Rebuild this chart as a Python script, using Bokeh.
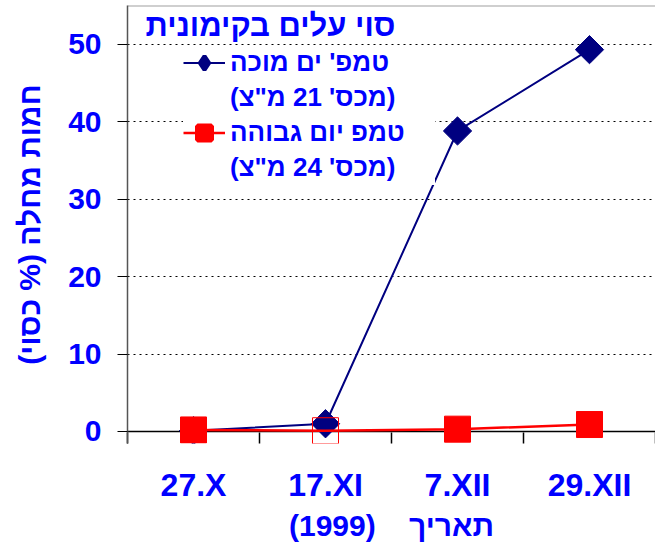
import numpy as np
from bokeh.plotting import figure
from bokeh.models import (Range1d, FixedTicker, Legend, LegendItem, ColumnDataSource,
                          Label, Span)
from bokeh.embed import file_html
from bokeh.resources import INLINE

# ---- data ----
dates = ["27.X", "17.XI", "7.XII", "29.XII"]
low_temp = [0.1, 1.0, 38.8, 49.3]     # טמפ' יום נמוכה (מכס' 21 מ"צ)
high_temp = [0.2, 0.1, 0.3, 0.9]      # טמפ' יום גבוהה (מכס' 24 מ"צ)
y_ticks = [0, 10, 20, 30, 40, 50]

legend_title = "סוי עלים בקימונית"
label_low = ["טמפ' ים מוכה", "(מכס' 21 מ\"צ)"]
label_high = ["טמפ יום גבוהה", "(מכס' 24 מ\"צ)"]
y_title = "חמות מחלה (% כסוי)"
x_title = "תאריך\u00a0\u00a0\u00a0\u00a0(1999)"

BLUE_TXT = "#0000FF"
NAVY = "#000080"
RED = "#FF0000"
FONT = "Liberation Sans"

xs = [i + 0.5 for i in range(len(dates))]

p = figure(output_backend="svg", toolbar_location=None,
           frame_width=528, frame_height=438,
           min_border_left=127, min_border_right=0, min_border_top=5, min_border_bottom=95,
           x_range=Range1d(0, len(dates)), y_range=Range1d(-1.55, 55))
p.background_fill_color = "white"
p.outline_line_color = None

# top border line and zero line
p.add_layout(Span(location=p.y_range.end, dimension="width", line_color="#A0A0A0",
                  line_width=2, level="underlay"))
p.add_layout(Span(location=0, dimension="width", line_color="black",
                  line_width=1.5, level="underlay"))

# grid
p.xgrid.visible = False
p.ygrid.grid_line_color = "black"
p.ygrid.grid_line_dash = "2 4"
p.ygrid.grid_line_width = 1

# y axis
p.yaxis.ticker = FixedTicker(ticks=y_ticks)
p.yaxis.axis_line_color = "#555555"
p.yaxis.axis_line_width = 1.5
p.yaxis.major_tick_out = 10
p.yaxis.major_tick_in = 0
p.yaxis.minor_tick_out = 0
p.yaxis.minor_tick_in = 0
p.yaxis.major_tick_line_color = "black"
p.yaxis.major_label_text_font = FONT
p.yaxis.major_label_text_font_style = "bold"
p.yaxis.major_label_text_font_size = "30px"
p.yaxis.major_label_text_color = BLUE_TXT
p.yaxis.major_label_standoff = 16
p.yaxis.axis_label = y_title
p.yaxis.axis_label_text_font = FONT
p.yaxis.axis_label_text_font_style = "bold"
p.yaxis.axis_label_text_font_size = "30px"
p.yaxis.axis_label_text_color = BLUE_TXT
p.yaxis.axis_label_standoff = 19

# x axis (at frame bottom; the category boundary ticks reach up to the zero line)
p.xaxis.ticker = FixedTicker(ticks=xs, minor_ticks=list(range(len(dates) + 1)))
p.xaxis.major_label_overrides = {x: d for x, d in zip(xs, dates)}
p.xaxis.axis_line_color = None
p.xaxis.major_tick_out = 0
p.xaxis.major_tick_in = 0
p.xaxis.minor_tick_out = 0
p.xaxis.minor_tick_in = 11
p.xaxis.minor_tick_line_color = "black"
p.xaxis.minor_tick_line_width = 1.5
p.xaxis.major_label_text_font = FONT
p.xaxis.major_label_text_font_style = "bold"
p.xaxis.major_label_text_font_size = "32px"
p.xaxis.major_label_text_color = BLUE_TXT
p.xaxis.major_label_standoff = 23
p.xaxis.axis_label = x_title
p.xaxis.axis_label_text_font = FONT
p.xaxis.axis_label_text_font_style = "bold"
p.xaxis.axis_label_text_font_size = "30px"
p.xaxis.axis_label_text_color = BLUE_TXT
p.xaxis.axis_label_standoff = 3

# series
src_low = ColumnDataSource(dict(x=xs, y=low_temp))
src_high = ColumnDataSource(dict(x=xs, y=high_temp,
                                 fc=[RED, "white", RED, RED], fa=[1, 0, 1, 1]))

l_low = p.line("x", "y", source=src_low, line_color=NAVY, line_width=2)
p.scatter("x", "y", source=src_low, marker="square", angle=np.pi / 4, size=20,
          fill_color=NAVY, line_color=NAVY)
l_high = p.line("x", "y", source=src_high, line_color=RED, line_width=2.5)
p.scatter("x", "y", source=src_high, marker="square", size=26,
          fill_color="fc", fill_alpha="fa", line_color=RED, line_width=1)

# legend-only proxies (never visible in the plot area)
leg_d = p.scatter(x=[np.nan], y=[np.nan], marker="diamond", fill_color=NAVY,
                  line_color=NAVY, line_width=4)
leg_s = p.scatter(x=[np.nan], y=[np.nan], marker="square", fill_color=RED,
                  line_color=RED, line_width=5)
blank = p.scatter(x=[np.nan], y=[np.nan], fill_alpha=0, line_alpha=0)

legend = Legend(items=[LegendItem(label=label_low[0], renderers=[l_low, leg_d]),
                       LegendItem(label=label_low[1], renderers=[blank]),
                       LegendItem(label=label_high[0], renderers=[l_high, leg_s]),
                       LegendItem(label=label_high[1], renderers=[blank])],
                location=(56, 258))
legend.label_text_font = FONT
legend.label_text_font_style = "bold"
legend.label_text_font_size = "26px"
legend.label_text_color = BLUE_TXT
legend.label_standoff = 5
legend.label_width = 205
legend.glyph_width = 42
legend.glyph_height = 35
legend.label_height = 30
legend.spacing = 0
legend.padding = 0
legend.margin = 0
legend.border_line_color = None
legend.background_fill_color = "white"
legend.background_fill_alpha = 1
p.add_layout(legend)

title = Label(x=18, y=418, x_units="screen", y_units="screen", text=legend_title,
              text_font=FONT, text_font_style="bold", text_font_size="31px",
              text_color=BLUE_TXT, text_baseline="middle", text_align="left",
              background_fill_color="white", padding=0)
p.add_layout(title)

open("out.html", "w").write(file_html(p, INLINE))
